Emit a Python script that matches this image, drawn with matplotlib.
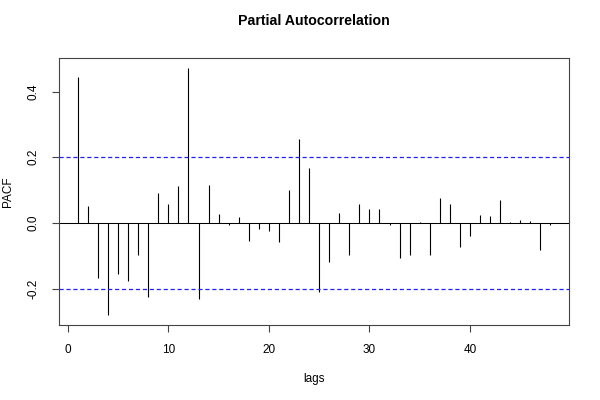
import matplotlib
matplotlib.use("Agg")
import matplotlib.pyplot as plt
import numpy as np

lags = list(range(1, 49))
pacf = [0.445, 0.052, -0.167, -0.280, -0.156, -0.177, -0.097, -0.225, 0.092, 0.058,
        0.112, 0.472, -0.230, 0.115, 0.027, -0.006, 0.019, -0.056, -0.017, -0.025,
        -0.059, 0.101, 0.255, 0.168, -0.209, -0.119, 0.030, -0.098, 0.058, 0.043,
        0.043, -0.006, -0.105, -0.097, 0.003, -0.097, 0.077, 0.058, -0.074, -0.038,
        0.025, 0.022, 0.069, 0.003, 0.008, 0.006, -0.083, -0.007]
conf = 0.2
xticks = [0, 10, 20, 30, 40]
yticks = [-0.2, 0.0, 0.2, 0.4]

plt.rcParams['font.family'] = ['Liberation Sans', 'DejaVu Sans']
plt.rcParams['lines.scale_dashes'] = False

fig = plt.figure(figsize=(6, 4), dpi=100)
ax = fig.add_axes([59/600, 1-325/400, (569.3-59)/600, (325-58)/400])

ax.vlines(lags, 0, pacf, color='black', linewidth=0.8)
ax.axhline(0, color='black', linewidth=0.75)
ax.axhline(conf, color='#2020ff', linestyle=(0, (3, 2)), linewidth=0.9)
ax.axhline(-conf, color='#2020ff', linestyle=(0, (3, 2)), linewidth=0.9)

span = lags[-1] - lags[0]
ax.set_xlim(lags[0] - 0.04*span, lags[-1] + 0.04*span)
lo = min(min(pacf), -conf); hi = max(max(pacf), conf)
r = hi - lo
ax.set_ylim(lo - 0.04*r, hi + 0.04*r)

ax.set_xticks(xticks)
ax.set_xticklabels([str(t) for t in xticks])
ax.set_yticks(yticks)
ax.set_yticklabels(['-0.2', '0.0', '0.2', '0.4'], rotation=90, va='center')
ax.tick_params(axis='both', length=5, width=0.8, labelsize=8.5, color='#444444')
ax.tick_params(axis='x', pad=9)
ax.tick_params(axis='y', pad=9)
for s in ax.spines.values():
    s.set_linewidth(0.8)
    s.set_color('#444444')

ax.set_xlabel('lags', fontsize=8.5, labelpad=12)
ax.set_ylabel('PACF', fontsize=8.5, labelpad=10)
fig.suptitle('Partial Autocorrelation', fontsize=10.2, fontweight='bold', x=314/600, y=1-14/400, va='top')

fig.savefig('out.png', dpi=100)
